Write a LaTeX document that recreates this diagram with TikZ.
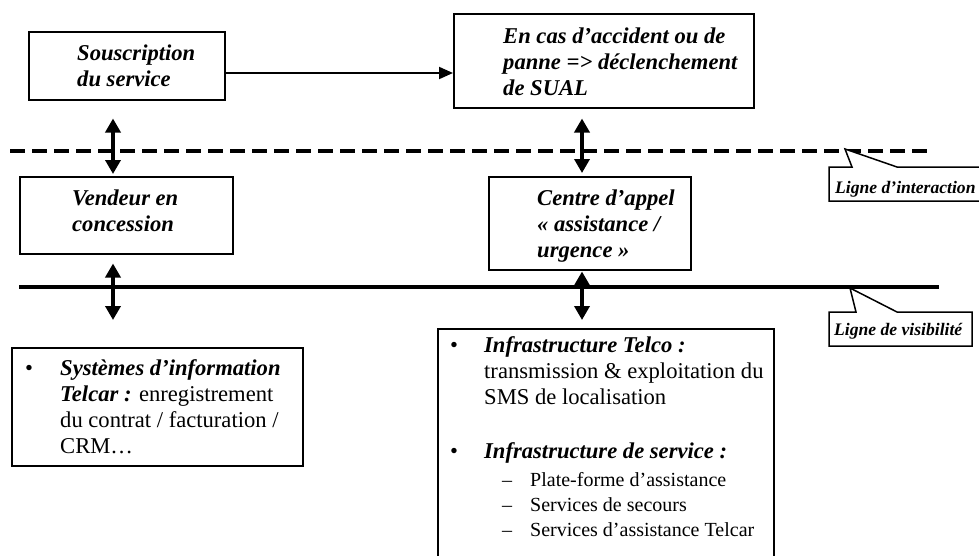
\documentclass[tikz,border=0pt]{standalone}
\usepackage{fontspec}
\setmainfont{Liberation Serif}
\usetikzlibrary{arrows.meta}
\begin{document}
\begin{tikzpicture}[x=1pt,y=-1pt,
  box/.style={draw=black, line width=1.5pt, fill=white, inner sep=0pt, anchor=north west},
  bi/.style={font=\bfseries\itshape\fontsize{22.6}{26}\selectfont, inner sep=0pt, anchor=north west, align=left},
  rm/.style={font=\fontsize{22.6}{26}\selectfont, inner sep=0pt, anchor=north west, align=left},
  sm/.style={font=\fontsize{20}{25}\selectfont, inner sep=0pt, anchor=north west, align=left},
  dbl/.style={line width=3.5pt, {Triangle[length=14pt,width=15pt]}-{Triangle[length=14pt,width=15pt]}},
  harrow/.style={line width=2pt, -{Triangle[length=14pt,width=12pt]}},
  callout/.style={draw=black, line width=1.5pt, fill=white, line join=miter},
  ctext/.style={font=\bfseries\itshape\fontsize{17.6}{20}\selectfont, inner sep=0pt, anchor=base west}
]
\useasboundingbox (0,0) rectangle (979,555);
\clip (0,0) rectangle (979,555);

% separation lines
\coordinate (dl1) at (10,151);
\coordinate (dl2) at (932,151);
\coordinate (sl1) at (19,287);
\coordinate (sl2) at (939,287);
\draw[line width=4pt, dash pattern=on 15pt off 7pt] (dl1) -- (dl2);
\draw[line width=4pt] (sl1) -- (sl2);

% boxes
\node[box, minimum width=196, minimum height=68] (sousc) at (28,31) {};
\node[bi] (tsousc) at (77,41.8) {\strut Souscription\\du service};

\node[box, minimum width=300, minimum height=94] (sual) at (453,13) {};
\node[bi] (tsual) at (503,24.8) {\strut En cas d’accident ou de\\panne => déclenchement\\de SUAL};

\node[box, minimum width=213, minimum height=77] (vend) at (19,176) {};
\node[bi] (tvend) at (72,186.8) {\strut Vendeur en\\concession};

\node[box, minimum width=202, minimum height=93] (centre) at (488,176) {};
\node[bi] (tcentre) at (537,186.8) {\strut Centre d’appel\\« assistance /\\urgence »};

\node[box, minimum width=291, minimum height=118] (sysinfo) at (11,347) {};
\node[rm] (bsys) at (25,356.8) {\strut •};
\node[rm] (tsys) at (60,356.8) {\strut \textbf{\textit{Systèmes d’information}}\\\textbf{\textit{Telcar :}} enregistrement\\du contrat / facturation /\\CRM…};

\node[box, minimum width=336, minimum height=240] (infra) at (437,328) {};
\node[rm] (binfra1) at (450,333.8) {\strut •};
\node[rm] (tinfra1) at (484,333.8) {\strut \textbf{\textit{Infrastructure Telco :}}\\transmission \& exploitation du\\SMS de localisation};
\node[rm] (binfra2) at (450,439.8) {\strut •};
\node[bi] (tinfra2) at (484,439.8) {\strut Infrastructure de service :};
\node[sm] (dinfra) at (502,468.5) {\strut –\\–\\–};
\node[sm] (sinfra) at (530,468.5) {\strut Plate-forme d’assistance\\Services de secours\\Services d’assistance Telcar};

% arrows
\coordinate (ax) at (113,0);
\coordinate (bx) at (582,0);
\coordinate (hy) at (0,73);
\draw[harrow] (sousc.east |- hy) -- (sual.west |- hy);
\draw[dbl, shorten <=18pt, shorten >=2pt] (sousc.south -| ax) -- (vend.north -| ax);
\draw[dbl, shorten <=9pt, shorten >=27pt] (vend.south -| ax) -- (sysinfo.north -| ax);
\draw[dbl, shorten <=10pt, shorten >=3pt] (sual.south -| bx) -- (centre.north -| bx);
\draw[dbl, shorten <=1pt, shorten >=8pt] (centre.south -| bx) -- (infra.north -| bx);

% callouts
\draw[callout] (829,167) -- (852,167) -- (845,149) -- (897,167) -- (990,167) -- (990,201) -- (829,201) -- cycle;
\node[ctext] (cinter) at (835,193) {Ligne d’interaction};
\draw[callout] (829,312) -- (856,312) -- (850,288) -- (897,312) -- (972,312) -- (972,346) -- (829,346) -- cycle;
\node[ctext] (cvis) at (834,335) {Ligne de visibilité};
\end{tikzpicture}
\end{document}
